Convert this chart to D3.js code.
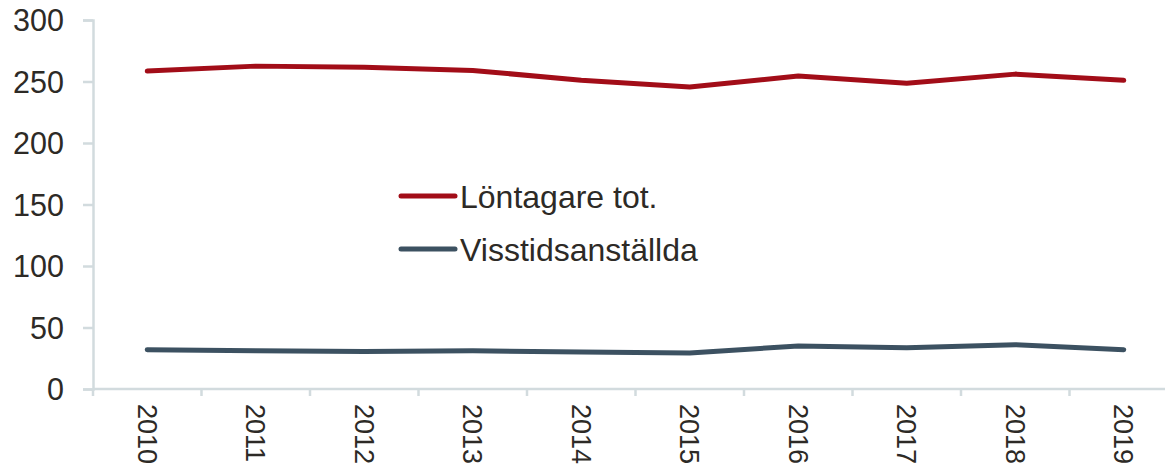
<!DOCTYPE html>
<html>
<head>
<meta charset="utf-8">
<script src="https://cdn.jsdelivr.net/npm/d3@7"></script>
<style>
  body { margin: 0; background: #fff; }
  text { font-family: "Liberation Sans", Arial, sans-serif; fill: #2d2a26; }
</style>
</head>
<body>
<div id="chart"></div>
<script>
// Data
const years = ["2010", "2011", "2012", "2013", "2014", "2015", "2016", "2017", "2018", "2019"];
const lontagare = [258.5, 262.5, 261.5, 259, 251, 245.5, 254.5, 248.5, 256, 251];
const visstid = [32, 31, 30.5, 31, 30, 29.3, 35, 33.5, 36, 32];
const yTicks = [0, 50, 100, 150, 200, 250, 300];

const series = [
    { name: "Löntagare tot.", values: lontagare, color: "#a20d18" },
    { name: "Visstidsanställda", values: visstid, color: "#3c5161" }
];

const width = 1165, height = 465;
const axisColor = "#d2dbde";

const svg = d3.select("#chart").append("svg")
    .attr("width", width)
    .attr("height", height);

// Scales
const x = d3.scaleBand()
    .domain(years)
    .range([93, 93 + 108.5 * years.length]);

const y = d3.scaleLinear()
    .domain([0, 300])
    .range([389, 20]);

// Y axis
const yAxis = svg.append("g")
    .attr("transform", "translate(93,0)")
    .call(d3.axisLeft(y).tickValues(yTicks).tickSize(10).tickPadding(19));
yAxis.select(".domain").attr("stroke", axisColor).attr("stroke-width", 2.5);
yAxis.selectAll(".tick line").attr("stroke", axisColor).attr("stroke-width", 2.5);
yAxis.selectAll(".tick text")
    .attr("font-size", 30.5)
    .attr("font-family", null)
    .attr("dy", "0.36em")
    .attr("fill", "#2d2a26");

// X axis: ticks between categories
const xAxis = svg.append("g")
    .attr("transform", `translate(0,${y(0)})`);
xAxis.append("line")
    .attr("x1", 93).attr("x2", width)
    .attr("stroke", axisColor).attr("stroke-width", 2.5);
xAxis.selectAll(".xtick")
    .data(years)
    .join("line")
    .attr("class", "xtick")
    .attr("x1", d => x(d)).attr("x2", d => x(d))
    .attr("y1", 0).attr("y2", 7)
    .attr("stroke", axisColor).attr("stroke-width", 2.5);
xAxis.selectAll(".xlabel")
    .data(years)
    .join("text")
    .attr("class", "xlabel")
    .attr("transform", d => `translate(${x(d) + x.bandwidth() / 2},15) rotate(90)`)
    .attr("dy", "0.36em")
    .attr("font-size", 27)
    .text(d => d);

// Lines
const line = d3.line()
    .x((d, i) => x(years[i]) + x.bandwidth() / 2)
    .y(d => y(d));

svg.selectAll(".series")
    .data(series)
    .join("path")
    .attr("class", "series")
    .attr("d", d => line(d.values))
    .attr("fill", "none")
    .attr("stroke", d => d.color)
    .attr("stroke-width", 5)
    .attr("stroke-linecap", "round")
    .attr("stroke-linejoin", "round");

// Legend
const legend = svg.selectAll(".legend")
    .data(series)
    .join("g")
    .attr("class", "legend")
    .attr("transform", (d, i) => `translate(401,${196 + i * 53})`);
legend.append("line")
    .attr("x1", 0).attr("x2", 54)
    .attr("stroke", d => d.color)
    .attr("stroke-width", 5)
    .attr("stroke-linecap", "round");
legend.append("text")
    .attr("x", 59)
    .attr("dy", "0.36em")
    .attr("font-size", 32)
    .text(d => d.name);
</script>
</body>
</html>
